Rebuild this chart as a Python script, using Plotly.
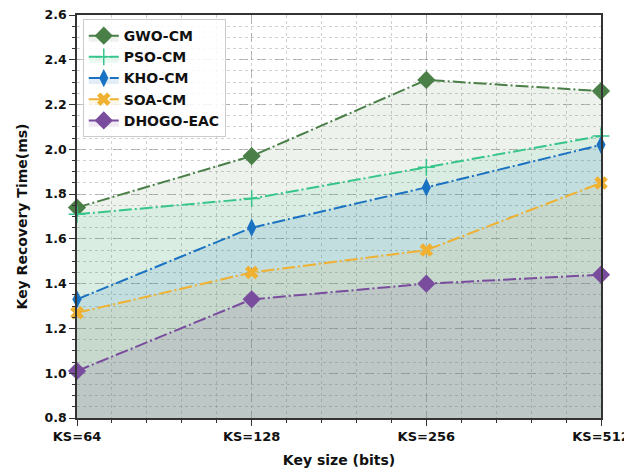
import plotly.graph_objects as go

categories = ["KS=64", "KS=128", "KS=256", "KS=512"]
gwo = [1.74, 1.97, 2.31, 2.26]
pso = [1.71, 1.78, 1.92, 2.06]
kho = [1.33, 1.65, 1.83, 2.02]
soa = [1.27, 1.45, 1.55, 1.85]
dhogo = [1.01, 1.33, 1.40, 1.44]

series = [
    ("GWO-CM", gwo, "#4a7f48", "rgba(74,127,72,0.10)", "diamond", 14),
    ("PSO-CM", pso, "#36c58a", "rgba(54,197,138,0.10)", "cross-thin", 12),
    ("KHO-CM", kho, "#1a72c2", "rgba(26,114,194,0.12)", "diamond-tall", 13),
    ("SOA-CM", soa, "#f0b030", "rgba(240,176,48,0.10)", "x", 12),
    ("DHOGO-EAC", dhogo, "#7a4c9e", "rgba(122,76,158,0.12)", "diamond", 14),
]

x = list(range(len(categories)))
fig = go.Figure()
for name, ys, col, fcol, sym, sz in series:
    mk = dict(symbol=sym, size=sz, color=col)
    if sym == "cross-thin":
        mk["line"] = dict(color=col, width=1.5)
    fig.add_trace(go.Scatter(
        x=x, y=ys, name=name, mode="lines+markers",
        line=dict(color=col, width=2, dash="13px,3px,2px,3px"),
        marker=mk, fill="tozeroy", fillcolor=fcol, cliponaxis=False,
    ))

xtf = dict(family="DejaVu Sans", size=13, color="#111111", weight="bold")
ytf = dict(family="DejaVu Sans", size=12.5, color="#111111", weight="bold")
af = dict(family="DejaVu Sans", size=14, color="#111111", weight="bold")
# page body has an 8px default margin, so the figure is sized to fit the window
fig.update_layout(
    width=624, height=460,
    margin=dict(l=69, r=31, t=7, b=50),
    paper_bgcolor="white", plot_bgcolor="white",
    font=dict(family="DejaVu Sans", size=13, color="#111111"),
    showlegend=True,
    legend=dict(
        x=0.011, y=0.99, xanchor="left", yanchor="top",
        bgcolor="rgba(255,255,255,0.85)", bordercolor="#cccccc", borderwidth=1,
        font=dict(family="DejaVu Sans", size=14, color="#111111", weight="bold"),
        itemwidth=30, tracegroupgap=0,
    ),
    xaxis=dict(
        range=[0, 3], tickmode="array", tickvals=x, ticktext=categories,
        tickfont=xtf, automargin=False, ticklabeloverflow="allow",
        title=dict(text="Key size (bits)", font=af, standoff=15),
        showline=True, linecolor="#333333", linewidth=1.5, mirror=True,
        ticks="outside", ticklen=6, tickcolor="#333333",
        showgrid=True, gridcolor="rgba(150,150,150,0.6)", griddash="dash", gridwidth=1,
        minor=dict(dtick=0.2, ticks="outside", ticklen=3, tickcolor="#333333",
                   showgrid=True, gridcolor="rgba(150,150,150,0.45)", griddash="dot", gridwidth=1),
        zeroline=False,
    ),
    yaxis=dict(
        range=[0.8, 2.6], tickmode="array",
        tickvals=[0.8, 1.0, 1.2, 1.4, 1.6, 1.8, 2.0, 2.2, 2.4, 2.6],
        ticktext=["0.8", "1.0", "1.2", "1.4", "1.6", "1.8", "2.0", "2.2", "2.4", "2.6"],
        tickfont=ytf, automargin=False, ticklabeloverflow="allow",
        title=dict(text="Key Recovery Time(ms)", font=af, standoff=14),
        showline=True, linecolor="#333333", linewidth=1.5, mirror=True,
        ticks="outside", ticklen=6, tickcolor="#333333",
        showgrid=True, gridcolor="rgba(150,150,150,0.6)", griddash="dash", gridwidth=1,
        minor=dict(dtick=0.05, tick0=0.8, ticks="outside", ticklen=3, tickcolor="#333333",
                   showgrid=True, gridcolor="rgba(150,150,150,0.45)", griddash="dot", gridwidth=1),
        zeroline=False,
    ),
)
fig.write_html("out.html")
